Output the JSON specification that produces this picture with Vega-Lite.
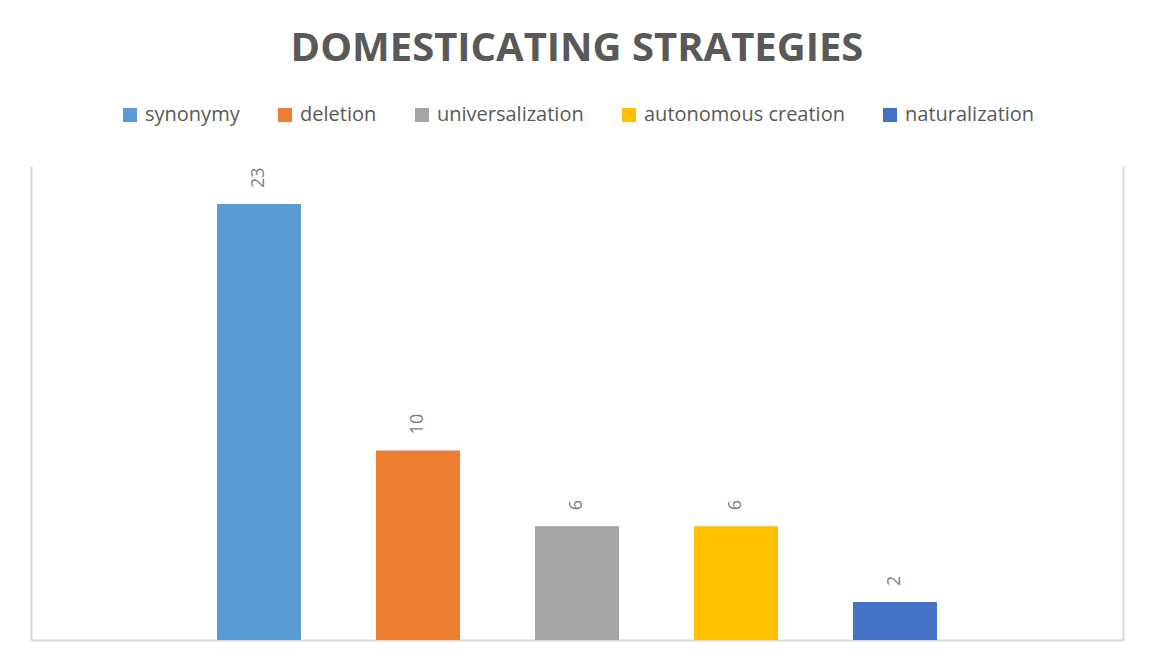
{
  "$schema": "https://vega.github.io/schema/vega-lite/v6.json",
  "autosize": "none",
  "width": 1092,
  "height": 474,
  "padding": {"left": 31, "top": 166, "right": 29, "bottom": 31},
  "background": "white",
  "config": {"view": {"stroke": null}, "font": "Open Sans", "legend": {"layout": {"top": {"anchor": "middle"}}}},
  "title": {
    "text": "DOMESTICATING STRATEGIES",
    "font": "Open Sans",
    "fontSize": 40,
    "fontWeight": "bold",
    "color": "#595959",
    "anchor": "middle",
    "offset": 36
  },
  "data": {
    "values": [
      {"strategy": "synonymy", "count": 23},
      {"strategy": "deletion", "count": 10},
      {"strategy": "universalization", "count": 6},
      {"strategy": "autonomous creation", "count": 6},
      {"strategy": "naturalization", "count": 2}
    ]
  },
  "encoding": {
    "x": {
      "field": "strategy",
      "type": "nominal",
      "sort": null,
      "scale": {
        "domain": [" ", "synonymy", "deletion", "universalization", "autonomous creation", "naturalization", "  "],
        "paddingInner": 0.472,
        "paddingOuter": 0.17
      },
      "axis": {"domain": true, "domainColor": "#d9d9d9", "domainWidth": 2, "labels": false, "ticks": false, "title": null, "grid": false}
    }
  },
  "layer": [
    {
      "mark": {"type": "bar"},
      "encoding": {
        "y": {
          "field": "count",
          "type": "quantitative",
          "scale": {"domain": [0, 25], "nice": false},
          "axis": {"orient": "left", "domain": true, "domainColor": "#d9d9d9", "domainWidth": 2, "labels": false, "ticks": false, "grid": false, "title": null}
        },
        "color": {
          "field": "strategy",
          "type": "nominal",
          "sort": null,
          "scale": {
            "domain": ["synonymy", "deletion", "universalization", "autonomous creation", "naturalization"],
            "range": ["#5b9bd5", "#ed7d31", "#a5a5a5", "#ffc000", "#4472c4"]
          },
          "legend": {
            "orient": "top",
            "direction": "horizontal",
            "title": null,
            "symbolType": "square",
            "symbolSize": 196,
            "symbolStrokeWidth": 0,
            "labelFont": "Open Sans",
            "labelFontSize": 20,
            "labelColor": "#595959",
            "labelOffset": 5,
            "columnPadding": 35,
            "offset": 41,
            "labelLimit": 400
          }
        }
      }
    },
    {
      "mark": {"type": "text", "angle": 270, "align": "left", "baseline": "middle", "dx": 16, "fontSize": 18, "color": "#7f7f7f", "font": "Open Sans"},
      "encoding": {
        "y": {
          "field": "count",
          "type": "quantitative",
          "scale": {"domain": [0, 25], "nice": false},
          "axis": {"orient": "right", "domain": true, "domainColor": "#d9d9d9", "domainWidth": 2, "labels": false, "ticks": false, "grid": false, "title": null}
        },
        "text": {"field": "count", "type": "quantitative"}
      }
    }
  ],
  "resolve": {"scale": {"y": "independent"}}
}
